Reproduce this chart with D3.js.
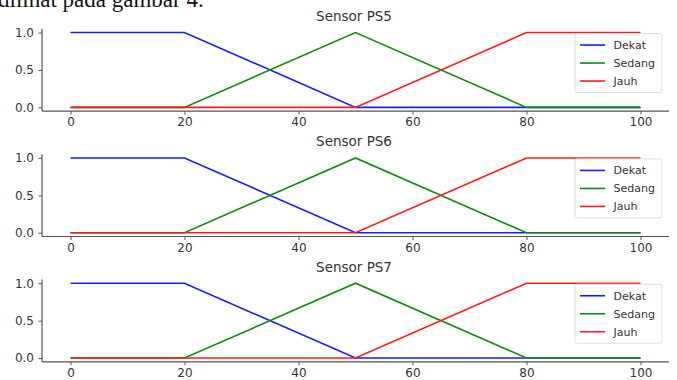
<!DOCTYPE html>
<html>
<head>
<meta charset="utf-8">
<script src="https://cdn.jsdelivr.net/npm/d3@7"></script>
<style>
  body { margin: 0; background: white; }
  svg { display: block; }
</style>
</head>
<body>
<script>
// Chart dimensions
var width = 677;
var height = 380;

// Data for membership functions
var xPoints = [0, 20, 50, 80, 100];
var dekat = [1, 1, 0, 0, 0];
var sedang = [0, 0, 1, 0, 0];
var jauh = [0, 0, 0, 1, 1];
var sensors = ["Sensor PS5", "Sensor PS6", "Sensor PS7"];
var seriesNames = ["Dekat", "Sedang", "Jauh"];
var seriesColors = ["#1a1aff", "#108a10", "#ff1a1a"];
var xTicks = [0, 20, 40, 60, 80, 100];
var yTicks = [0, 0.5, 1];

var seriesValues = [dekat, sedang, jauh];

// Panel placement (top of each axes box)
var panelTop = [28.8, 154.2, 279.5];
var panelHeight = 82.3;

var svg = d3.select("body")
    .append("svg")
    .attr("width", width)
    .attr("height", height);

// cut-off document text above the figure
svg.append("text")
    .attr("x", -2)
    .attr("y", 7)
    .attr("font-family", "Liberation Serif, serif")
    .attr("font-size", 23)
    .attr("fill", "#111")
    .text("dilihat pada gambar 4.");

var x = d3.scaleLinear()
    .domain([-5, 105])
    .range([42, 669]);

sensors.forEach(function (name, i) {
    var top = panelTop[i];
    var y = d3.scaleLinear()
        .domain([-0.05, 1.05])
        .range([top + panelHeight, top]);

    var g = svg.append("g");

    // x axis
    var xa = g.append("g")
        .attr("transform", "translate(0," + (top + panelHeight) + ")")
        .call(d3.axisBottom(x).tickValues(xTicks).tickSize(3.5).tickPadding(3));

    // y axis
    var ya = g.append("g")
        .attr("transform", "translate(" + x.range()[0] + ",0)")
        .call(d3.axisLeft(y).tickValues(yTicks).tickSize(3.5).tickPadding(4.5)
            .tickFormat(d3.format(".1f")));

    [xa, ya].forEach(function (a) {
        a.select(".domain").attr("stroke", "#555").attr("stroke-width", 1.2);
        a.selectAll(".tick line").attr("stroke", "#555");
        a.selectAll(".tick text")
            .attr("fill", "#333")
            .attr("font-family", "DejaVu Sans, sans-serif")
            .attr("font-size", 12);
    });
    // flat domain ends (no outer ticks)
    xa.select(".domain").attr("d", "M" + x.range()[0] + ",0H" + x.range()[1]);
    ya.select(".domain").attr("d", "M0," + y.range()[0] + "V" + y.range()[1]);

    // title
    g.append("text")
        .attr("x", 354)
        .attr("y", top - 8)
        .attr("text-anchor", "middle")
        .attr("font-family", "DejaVu Sans, sans-serif")
        .attr("font-size", 13.5)
        .attr("fill", "#333")
        .text(name);

    // lines
    var line = d3.line()
        .x(function (d, j) { return x(xPoints[j]); })
        .y(function (d) { return y(d); });

    seriesValues.forEach(function (vals, k) {
        g.append("path")
            .attr("d", line(vals))
            .attr("fill", "none")
            .attr("stroke", seriesColors[k])
            .attr("stroke-width", 1.6);
    });

    // legend
    var lg = g.append("g")
        .attr("transform", "translate(575," + (y(1) + 1) + ")");
    lg.append("rect")
        .attr("width", 87)
        .attr("height", 59)
        .attr("rx", 2)
        .attr("fill", "white")
        .attr("fill-opacity", 0.85)
        .attr("stroke", "#ddd");
    seriesNames.forEach(function (s, k) {
        var ly = 11.5 + k * 18;
        lg.append("line")
            .attr("x1", 5).attr("x2", 30)
            .attr("y1", ly).attr("y2", ly)
            .attr("stroke", seriesColors[k])
            .attr("stroke-width", 1.6);
        lg.append("text")
            .attr("x", 38.5)
            .attr("y", ly + 4)
            .attr("font-family", "DejaVu Sans, sans-serif")
            .attr("font-size", 11)
            .attr("fill", "#333")
            .text(s);
    });
});
</script>
</body>
</html>
